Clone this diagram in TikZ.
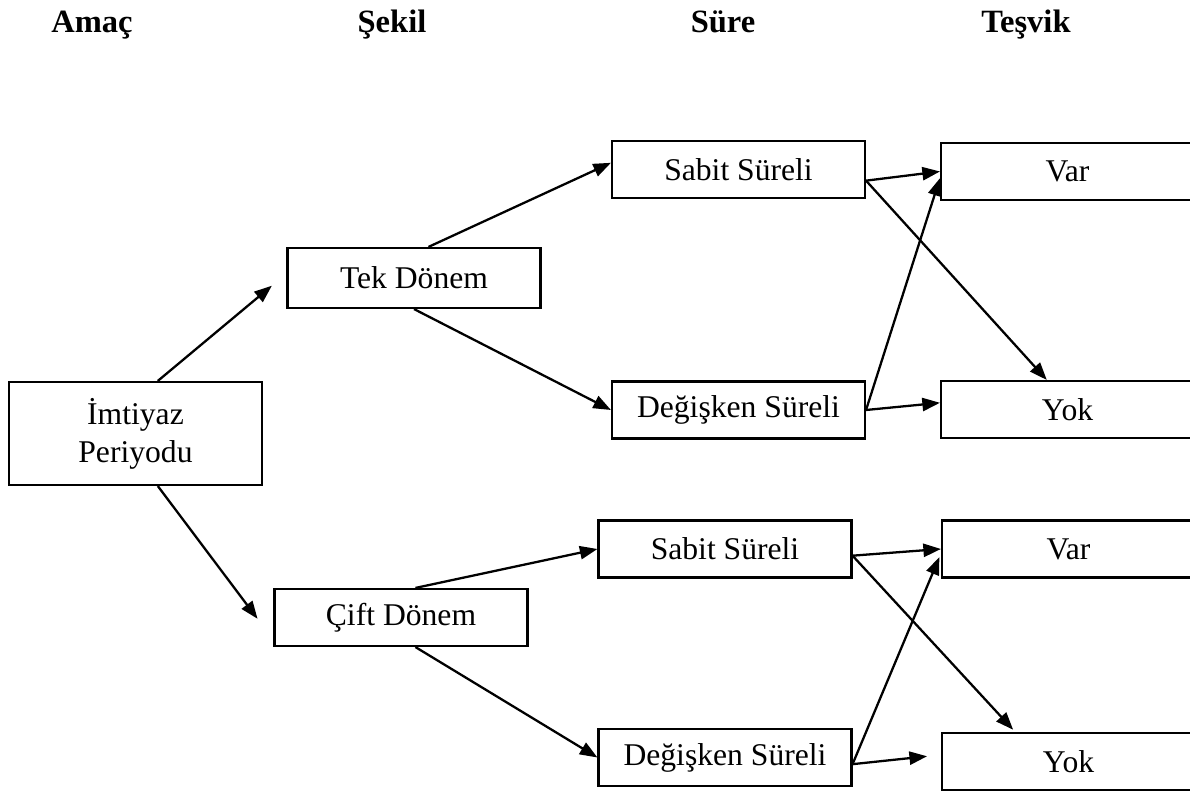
\documentclass[tikz,border=0pt]{standalone}
\usepackage{fontspec}
\setmainfont{Liberation Serif}
\usetikzlibrary{arrows.meta}

\tikzset{
	box/.style={draw, line width=1.2pt, inner sep=0pt, align=center,
		minimum width=5.06cm, minimum height=1.14cm},
	head/.style={anchor=base, font=\fontsize{18.5}{22}\selectfont\bfseries},
	arr/.style={-{Triangle[length=10pt,width=7.5pt]}, line width=1.3pt}
}

\begin{document}
\begin{tikzpicture}[font=\fontsize{18}{21.5}\selectfont]
	\useasboundingbox (0,0) rectangle (23.8,15.88);
	\clip (0,0) rectangle (23.8,15.88);
	% column titles
	\node[head] (h1) at (1.84,15.22) {Amaç};
	\node[head] (h2) at (7.84,15.22) {Şekil};
	\node[head] (h3) at (14.46,15.22) {Süre};
	\node[head] (h4) at (20.52,15.22) {Teşvik};
	% boxes
	\node[box, minimum height=2.06cm] (imt) at (2.71,7.21) {İmtiyaz\\Periyodu};
	\node[box, minimum height=1.2cm] (tek) at (8.28,10.32) {Tek Dönem};
	\node[box] (cift) at (8.02,3.53) {Çift Dönem};
	\node[box] (sab1) at (14.77,12.49) {Sabit Süreli};
	\node[box] (deg1) at (14.77,7.68) {Değişken Süreli};
	\node[box] (sab2) at (14.50,4.90) {Sabit Süreli};
	\node[box] (deg2) at (14.50,0.73) {Değişken Süreli};
	\node[box] (var1) at (21.35,12.45) {Var};
	\node[box] (yok1) at (21.35,7.69) {Yok};
	\node[box] (var2) at (21.37,4.90) {Var};
	\node[box] (yok2) at (21.37,0.65) {Yok};
	% arrows
	\draw[arr, shorten >=0.38cm] (imt.67) -- (tek.178);
	\draw[arr, shorten >=0.53cm] (imt.-67) -- (cift.190);
	\draw[arr] (tek.65) -- (sab1.177);
	\draw[arr] (tek.south) -- (deg1.west);
	\draw[arr] (cift.64) -- (sab2.west);
	\draw[arr] (cift.-64) -- (deg2.west);
	\draw[arr] (sab1.-5) -- (var1.west);
	\draw[arr] (sab1.-5) -- (yok1.125);
	\draw[arr] (deg1.east) -- (var1.183);
	\draw[arr] (deg1.east) -- (yok1.177);
	\draw[arr] (sab2.-3) -- (var2.west);
	\draw[arr, shorten >=0.06cm] (sab2.-3) -- (yok2.151);
	\draw[arr, shorten >=0.08cm] (deg2.-3) -- (var2.182);
	\draw[arr, shorten >=0.28cm] (deg2.-3) -- (yok2.177);
\end{tikzpicture}
\end{document}
